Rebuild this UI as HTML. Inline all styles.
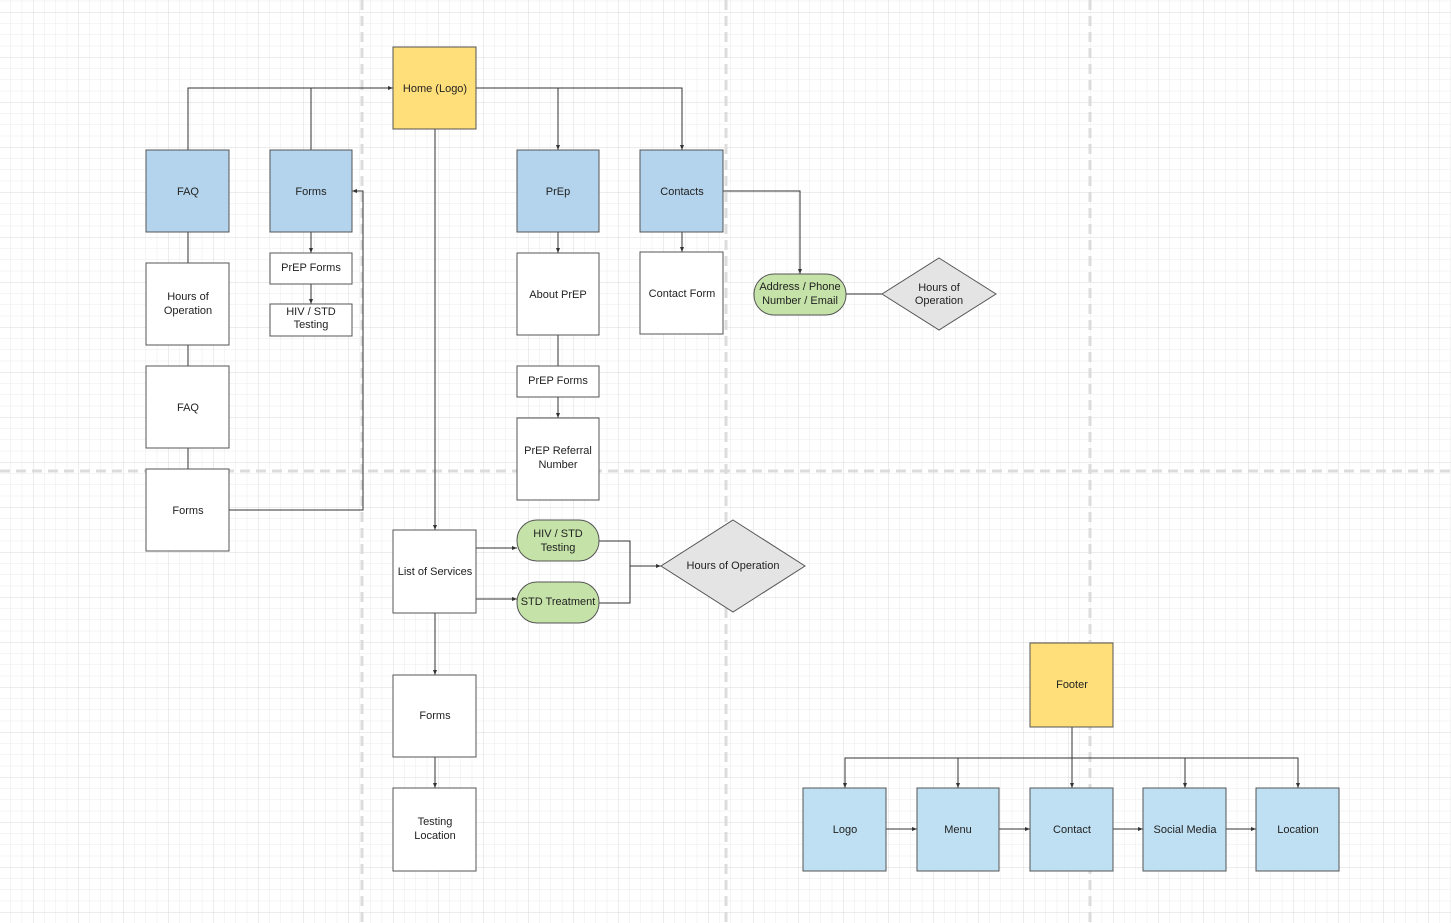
<!DOCTYPE html><html><head><meta charset="utf-8"><style>body{margin:0;background:#fff}svg{display:block}text{font-family:"Liberation Sans",sans-serif;font-size:11px;fill:#222;text-anchor:middle}</style></head><body>
<svg width="1451" height="923" xmlns="http://www.w3.org/2000/svg">
<defs>
<pattern id="mi" x="33" y="12" width="11.25" height="11.25" patternUnits="userSpaceOnUse"><path d="M0 0H11.25M0 0V11.25" stroke="#ebebeb" stroke-width="1" fill="none"/></pattern>
<pattern id="ma" x="33" y="12" width="45" height="45" patternUnits="userSpaceOnUse"><path d="M0 0H45M0 0V45" stroke="#d9d9d9" stroke-width="1" fill="none"/></pattern>
<marker id="a" markerWidth="6" markerHeight="6" refX="5" refY="3" orient="auto" markerUnits="userSpaceOnUse"><path d="M0 1L5 3L0 5z" fill="#333"/></marker>
</defs>
<rect width="1451" height="923" fill="url(#mi)"/><rect width="1451" height="923" fill="url(#ma)"/>
<g stroke="#dcdcdc" stroke-width="3" stroke-dasharray="10,6">
<path d="M362 0V923M726 0V923M1090 0V923M0 471H1451"/></g>
<g stroke="#333" fill="none" stroke-width="1">
<path d="M188 150V88H393" marker-end="url(#a)"/><path d="M311 150V88"/>
<path d="M476 88H682V150" marker-end="url(#a)"/><path d="M558 88V150" marker-end="url(#a)"/>
<path d="M435 129V530" marker-end="url(#a)"/>
<path d="M188 232V263M188 345V366M188 448V469"/>
<path d="M229 510H363V191H352" marker-end="url(#a)"/>
<path d="M311 232V253" marker-end="url(#a)"/><path d="M311 284V304" marker-end="url(#a)"/>
<path d="M558 232V253" marker-end="url(#a)"/><path d="M558 335V366"/><path d="M558 397V418" marker-end="url(#a)"/>
<path d="M682 232V252" marker-end="url(#a)"/>
<path d="M723 191H800V274" marker-end="url(#a)"/><path d="M846 294H882"/>
<path d="M476 548H517" marker-end="url(#a)"/><path d="M476 599H517" marker-end="url(#a)"/>
<path d="M599 541H630V603H599M630 566H661" marker-end="url(#a)"/>
<path d="M435 613V675" marker-end="url(#a)"/><path d="M435 757V788" marker-end="url(#a)"/>
<path d="M1072 727V788" marker-end="url(#a)"/>
<path d="M845 788V758H1298V788" marker-end="url(#a)"/>
<path d="M845 758V788" marker-end="url(#a)"/><path d="M958 758V788" marker-end="url(#a)"/><path d="M1185 758V788" marker-end="url(#a)"/>
<path d="M886 829H917" marker-end="url(#a)"/><path d="M999 829H1030" marker-end="url(#a)"/><path d="M1113 829H1143" marker-end="url(#a)"/><path d="M1226 829H1256" marker-end="url(#a)"/>
</g>
<g stroke="#555" stroke-width="1">
<rect x="393" y="47" width="83" height="82" fill="#ffdf7a"/>
<rect x="1030" y="643" width="83" height="84" fill="#ffdf7a"/>
<g fill="#b3d4ec"><rect x="146" y="150" width="83" height="82"/><rect x="270" y="150" width="82" height="82"/><rect x="517" y="150" width="82" height="82"/><rect x="640" y="150" width="83" height="82"/></g>
<g fill="#bfe0f3"><rect x="803" y="788" width="83" height="83"/><rect x="917" y="788" width="82" height="83"/><rect x="1030" y="788" width="83" height="83"/><rect x="1143" y="788" width="83" height="83"/><rect x="1256" y="788" width="83" height="83"/></g>
<g fill="#fff"><rect x="146" y="263" width="83" height="82"/><rect x="146" y="366" width="83" height="82"/><rect x="146" y="469" width="83" height="82"/>
<rect x="270" y="253" width="82" height="31"/><rect x="270" y="304" width="82" height="32"/>
<rect x="517" y="253" width="82" height="82"/><rect x="517" y="366" width="82" height="31"/><rect x="517" y="418" width="82" height="82"/>
<rect x="640" y="252" width="83" height="82"/>
<rect x="393" y="530" width="83" height="83"/><rect x="393" y="675" width="83" height="82"/><rect x="393" y="788" width="83" height="83"/></g>
<g fill="#c5e3a8"><rect x="754" y="274" width="92" height="41" rx="20"/><rect x="517" y="520" width="82" height="41" rx="20"/><rect x="517" y="582" width="82" height="41" rx="20"/></g>
<g fill="#e4e4e4"><path d="M939 258L996 294L939 330L882 294Z"/><path d="M733 520L805 566L733 612L661 566Z"/></g>
</g>
<text x="435" y="92">Home (Logo)</text><text x="1072" y="688">Footer</text>
<text x="188" y="195">FAQ</text><text x="311" y="195">Forms</text><text x="558" y="195">PrEp</text><text x="682" y="195">Contacts</text>
<text x="188" y="300">Hours of</text><text x="188" y="314">Operation</text>
<text x="188" y="411">FAQ</text><text x="188" y="514">Forms</text>
<text x="311" y="271">PrEP Forms</text><text x="311" y="315">HIV / STD</text><text x="311" y="328">Testing</text>
<text x="558" y="298">About PrEP</text><text x="558" y="384">PrEP Forms</text>
<text x="558" y="454">PrEP Referral</text><text x="558" y="468">Number</text>
<text x="682" y="297">Contact Form</text>
<text x="800" y="290">Address / Phone</text><text x="800" y="304">Number / Email</text>
<text x="939" y="291">Hours of</text><text x="939" y="304">Operation</text>
<text x="435" y="575">List of Services</text>
<text x="558" y="537">HIV / STD</text><text x="558" y="551">Testing</text>
<text x="558" y="605">STD Treatment</text>
<text x="733" y="569">Hours of Operation</text>
<text x="435" y="719">Forms</text><text x="435" y="825">Testing</text><text x="435" y="839">Location</text>
<text x="845" y="833">Logo</text><text x="958" y="833">Menu</text><text x="1072" y="833">Contact</text><text x="1185" y="833">Social Media</text><text x="1298" y="833">Location</text>
</svg></body></html>
